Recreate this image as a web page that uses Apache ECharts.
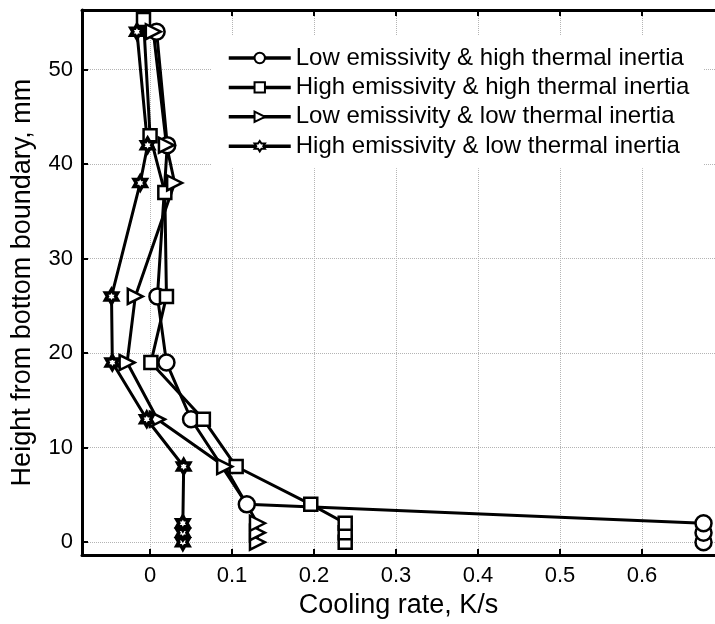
<!DOCTYPE html>
<html>
<head>
<meta charset="utf-8">
<script src="https://cdn.jsdelivr.net/npm/echarts@6/dist/echarts.min.js"></script>
<style>
  html, body { margin: 0; padding: 0; background: #fff; }
  #chart { width: 715px; height: 624px; }
</style>
</head>
<body>
<div id="chart"></div>
<script>
// series names (legend order)
var seriesNames = [
  'Low emissivity & high thermal inertia',
  'High emissivity & high thermal inertia',
  'Low emissivity & low thermal inertia',
  'High emissivity & low thermal inertia'
];

// heights (mm) and cooling rates (K/s)
var circleH = [0, 1, 2, 4, 13, 19, 26, 42, 54];
var circleX = [0.675, 0.675, 0.675, 0.118, 0.05, 0.02, 0.009, 0.021, 0.008];

var squareH = [0, 1, 2, 4, 8, 13, 19, 26, 37, 43, 55.3];
var squareX = [0.238, 0.238, 0.238, 0.196, 0.105, 0.065, 0.001, 0.02, 0.018, 0.0, -0.008];

var triangleH = [0, 1, 2, 8, 13, 19, 26, 38, 42, 54];
var triangleX = [0.131, 0.131, 0.131, 0.091, 0.009, -0.028, -0.018, 0.03, 0.02, 0.004];

var starH = [0, 1, 2, 8, 13, 19, 26, 38, 42, 54];
var starX = [0.04, 0.04, 0.04, 0.041, -0.004, -0.046, -0.047, -0.012, -0.003, -0.016];

// tick labels
var xTicks = [0, 0.1, 0.2, 0.3, 0.4, 0.5, 0.6];
var yTicks = [0, 10, 20, 30, 40, 50];

var FONT = "'Liberation Sans', Arial, sans-serif";
var hexagram = 'path://M0,-10 L2.887,-5 L8.66,-5 L5.774,0 L8.66,5 L2.887,5 L0,10 L-2.887,5 L-8.66,5 L-5.774,0 L-8.66,-5 L-2.887,-5 Z';

function pairs(xs, hs) {
  var out = [];
  for (var i = 0; i < xs.length; i++) out.push([xs[i], hs[i]]);
  return out;
}

function mkSeries(name, xs, hs, symbol, size, rotate, bw) {
  return {
    name: name,
    type: 'line',
    data: pairs(xs, hs),
    symbol: symbol,
    symbolSize: size,
    symbolRotate: rotate || 0,
    symbolKeepAspect: true,
    showAllSymbol: true,
    clip: true,
    animation: false,
    lineStyle: { color: '#000', width: 3 },
    itemStyle: { color: '#fff', borderColor: '#000', borderWidth: bw || 2.5 },
    emphasis: { disabled: true }
  };
}

var myChart = echarts.init(document.getElementById('chart'));
myChart.setOption({
  backgroundColor: '#fff',
  animation: false,
  grid: { left: 82, top: 10, right: -2, bottom: 66 },
  legend: {
    orient: 'vertical',
    left: 212,
    top: 36,
    padding: [9, 14, 9, 15],
    backgroundColor: '#fff',
    itemWidth: 62,
    itemHeight: 13,
    itemGap: 3.4,
    lineStyle: { width: 3.5 },
    textStyle: { fontSize: 24, fontFamily: FONT, color: '#000', lineHeight: 26 },
    data: seriesNames
  },
  xAxis: [
    {
      type: 'value',
      min: -0.083,
      max: 0.689,
      name: 'Cooling rate, K/s',
      nameLocation: 'middle',
      nameGap: 30,
      nameTextStyle: { fontSize: 27, fontFamily: FONT, color: '#000' },
      axisLine: { show: true, onZero: false, lineStyle: { color: '#000', width: 3 } },
      axisTick: { show: true, inside: true, length: 6, lineStyle: { color: '#000', width: 2 }, customValues: xTicks },
      axisLabel: { fontSize: 22, fontFamily: FONT, color: '#000', margin: 10, customValues: xTicks,
        formatter: function (v) { return String(Math.round(v * 10) / 10); } },
      splitLine: { show: true, lineStyle: { color: '#b4b4b4', type: 'dotted', width: 1 } }
    },
    {
      type: 'value',
      position: 'top',
      min: -0.083,
      max: 0.689,
      axisLine: { show: true, onZero: false, lineStyle: { color: '#000', width: 3 } },
      axisTick: { show: true, inside: true, length: 6, lineStyle: { color: '#000', width: 2 }, customValues: xTicks },
      axisLabel: { show: false },
      splitLine: { show: false }
    }
  ],
  yAxis: {
    type: 'value',
    min: -1.37,
    max: 56.3,
    name: 'Height from bottom boundary, mm',
    nameLocation: 'middle',
    nameGap: 46,
    nameTextStyle: { fontSize: 27, fontFamily: FONT, color: '#000' },
    axisLine: { show: true, onZero: false, lineStyle: { color: '#000', width: 3 } },
    axisTick: { show: true, inside: true, length: 6, lineStyle: { color: '#000', width: 2 }, customValues: yTicks },
    axisLabel: { fontSize: 22, fontFamily: FONT, color: '#000', margin: 9, customValues: yTicks },
    splitLine: { show: true, lineStyle: { color: '#b4b4b4', type: 'dotted', width: 1 } }
  },
  series: [
    mkSeries(seriesNames[0], circleX, circleH, 'circle', 16),
    mkSeries(seriesNames[1], squareX, squareH, 'rect', 13),
    mkSeries(seriesNames[2], triangleX, triangleH, 'triangle', 15, -90),
    mkSeries(seriesNames[3], starX, starH, hexagram, 14, 0, 3.5)
  ]
});
window.addEventListener('resize', myChart.resize);
</script>
</body>
</html>
